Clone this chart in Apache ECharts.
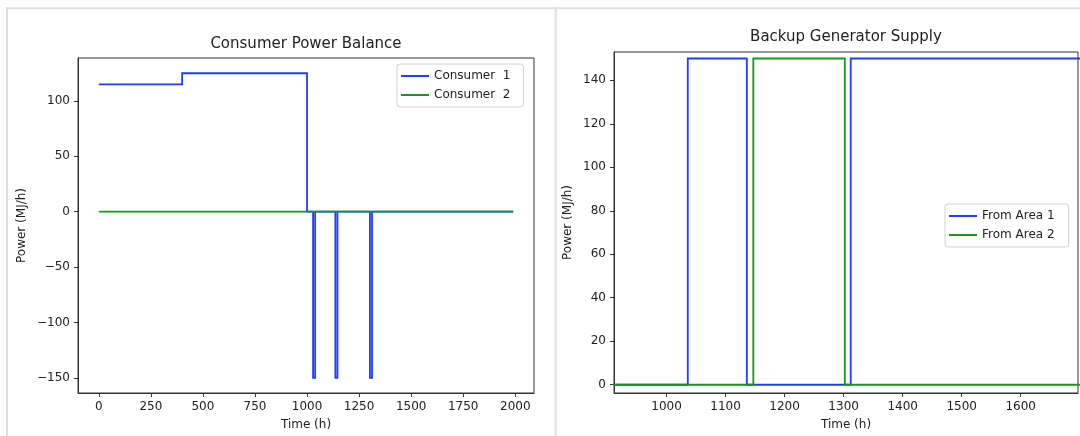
<!DOCTYPE html>
<html>
<head>
<meta charset="utf-8">
<script src="https://cdn.jsdelivr.net/npm/echarts@6/dist/echarts.min.js"></script>
<style>
html, body { margin: 0; padding: 0; background: #fff; }
#chart { width: 1080px; height: 436px; }
</style>
</head>
<body>
<div id="chart"></div>
<script>
// consumer power balance (left)
var consumerTime = [0, 400, 1000, 1029, 1039, 1136, 1146, 1302, 1312, 1990];
var consumer1 = [115, 125, 0, -150, 0, -150, 0, -150, 0, 0];
var consumer2Time = [0, 1990];
var consumer2 = [0, 0];

// backup generator supply (right)
var area1Time = [0, 1036, 1136, 1312, 1990];
var area1 = [0, 150, 0, 150, 150];
var area2Time = [0, 1147, 1302, 1990];
var area2 = [0, 150, 0, 0];

var leftXTicks = [0, 250, 500, 750, 1000, 1250, 1500, 1750, 2000];
var leftYTicks = [-150, -100, -50, 0, 50, 100];
var rightXTicks = [1000, 1100, 1200, 1300, 1400, 1500, 1600];
var rightYTicks = [0, 20, 40, 60, 80, 100, 120, 140];

var FONT = 'DejaVu Sans';
var TXT = '#222';
var BLUE = '#1f3dff';
var GREEN = '#1a961a';

function pairs(xs, ys) {
	var out = [];
	for (var i = 0; i < xs.length; i++) out.push([xs[i], ys[i]]);
	return out;
}
function minus(v) {
	return String(v).replace('-', '\u2212');
}

function valueAxis(idx, min, max, ticks, name, gap, isY) {
	return {
		type: 'value',
		gridIndex: idx,
		min: min,
		max: max,
		name: name,
		nameLocation: 'middle',
		nameGap: gap,
		nameRotate: isY ? 90 : 0,
		nameTextStyle: { color: TXT, fontFamily: FONT, fontSize: 12 },
		axisLine: { show: true, onZero: false, lineStyle: { color: '#333', width: 1 } },
		axisTick: { show: true, inside: false, length: 4, customValues: ticks,
			lineStyle: { color: '#333', width: 1 } },
		axisLabel: { show: true, customValues: ticks, margin: 8, formatter: minus,
			color: TXT, fontFamily: FONT, fontSize: 12 },
		splitLine: { show: false }
	};
}

function stepLine(name, xs, ys, color, xi) {
	return {
		name: name,
		type: 'line',
		step: 'end',
		xAxisIndex: xi,
		yAxisIndex: xi,
		symbol: 'none',
		animation: false,
		data: pairs(xs, ys),
		lineStyle: { color: color, width: 1.8, join: 'miter' },
		itemStyle: { color: color }
	};
}

var legendBase = {
	orient: 'vertical',
	icon: 'rect',
	itemWidth: 28,
	itemHeight: 2,
	itemGap: 5,
	padding: [5, 13, 5, 4],
	backgroundColor: '#fff',
	borderColor: '#d0d0d0',
	borderWidth: 1,
	borderRadius: 3,
	textStyle: { color: TXT, fontFamily: FONT, fontSize: 12, lineHeight: 14 }
};

var option = {
	backgroundColor: '#fff',
	animation: false,
	title: [
		{ text: 'Consumer Power Balance', left: 306, top: 37, textAlign: 'center', padding: 0,
			textStyle: { color: TXT, fontFamily: FONT, fontSize: 15, fontWeight: 'normal' } },
		{ text: 'Backup Generator Supply', left: 846, top: 30, textAlign: 'center', padding: 0,
			textStyle: { color: TXT, fontFamily: FONT, fontSize: 15, fontWeight: 'normal' } }
	],
	legend: [
		Object.assign({}, legendBase, { left: 397, top: 64, data: ['Consumer  1', 'Consumer  2'] }),
		Object.assign({}, legendBase, { left: 945, top: 204, padding: [5, 14, 5, 4], data: ['From Area 1', 'From Area 2'] })
	],
	grid: [
		{ left: 78, top: 58, width: 456, height: 339, show: true, borderColor: '#333', borderWidth: 1, backgroundColor: 'transparent' },
		{ left: 614, top: 52, width: 464, height: 345, show: true, borderColor: '#333', borderWidth: 1, backgroundColor: 'transparent' }
	],
	xAxis: [
		valueAxis(0, -100, 2090, leftXTicks, 'Time (h)', 26, false),
		valueAxis(1, 911, 1697, rightXTicks, 'Time (h)', 26, false)
	],
	yAxis: [
		valueAxis(0, -163.75, 138.75, leftYTicks, 'Power (MJ/h)', 50, true),
		valueAxis(1, -3.8, 153, rightYTicks, 'Power (MJ/h)', 40, true)
	],
	series: [
		stepLine('Consumer  1', consumerTime, consumer1, BLUE, 0),
		stepLine('Consumer  2', consumer2Time, consumer2, GREEN, 0),
		stepLine('From Area 1', area1Time, area1, BLUE, 1),
		stepLine('From Area 2', area2Time, area2, GREEN, 1)
	],
	graphic: [
		{ type: 'line', shape: { x1: 6, y1: 8.3, x2: 1080, y2: 8.3 }, style: { stroke: '#e0e0e0', lineWidth: 2 }, silent: true },
		{ type: 'line', shape: { x1: 7, y1: 7, x2: 7, y2: 436 }, style: { stroke: '#e0e0e0', lineWidth: 2 }, silent: true },
		{ type: 'line', shape: { x1: 555.7, y1: 7, x2: 555.7, y2: 436 }, style: { stroke: '#e0e0e0', lineWidth: 2 }, silent: true }
	]
};

var myChart = echarts.init(document.getElementById('chart'), null, { renderer: 'canvas' });
myChart.setOption(option);
</script>
</body>
</html>
